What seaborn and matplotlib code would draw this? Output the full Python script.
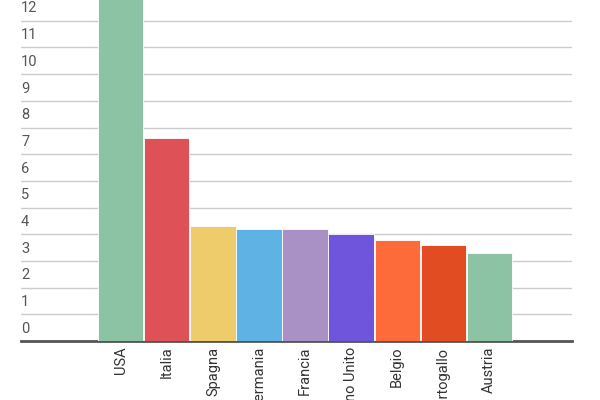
import matplotlib
matplotlib.use("Agg")
import matplotlib.pyplot as plt
import matplotlib.transforms as mtrans
import seaborn as sns
import pandas as pd

countries = ["USA", "Italia", "Spagna", "Germania", "Francia", "Regno Unito", "Belgio", "Portogallo", "Austria"]
values = [14.0, 7.6, 4.3, 4.2, 4.2, 4.0, 3.8, 3.6, 3.3]
colors = ["#8cc3a5", "#de5257", "#eecb6b", "#5fb3e4", "#a991c6", "#6e55dc", "#fc6b39", "#e24c22", "#8cc3a5"]
yticks = list(range(0, 13))

sns.set_style("white")
plt.rcParams['font.family'] = ['Roboto', 'DejaVu Sans']

fig = plt.figure(figsize=(6, 4), dpi=100)
ax = fig.add_axes([21/600, 1-341/400, (572-21)/600, 341/400])
df = pd.DataFrame({"c": countries, "v": values})
sns.barplot(data=df, x="c", y="v", hue="c", palette=colors, legend=False,
            width=0.98, saturation=1, ax=ax, edgecolor="white", linewidth=0.6, zorder=3)
ax.set_ylim(0, 12.78)
ax.set_xlim(-0.5-1.67, 8.5+1.3)
ax.set_yticks(yticks)
ax.yaxis.grid(True, color="#cccccc", linewidth=1, zorder=0)
ax.tick_params(axis="y", length=0, labelleft=False)
ax.tick_params(axis="x", length=0, labelsize=10.5, labelcolor="#333333", pad=4)
ax.set_xticks(range(len(countries)))
ax.set_xticklabels(countries, rotation=90, va="top", ha="center")
tr = mtrans.blended_transform_factory(ax.transAxes, ax.transData)
for t in yticks:
    ax.text(0.0, t + 0.2, str(t), transform=tr, ha="left", va="bottom",
            fontsize=10.5, color="#555555")
for s in ["top", "right", "left"]:
    ax.spines[s].set_visible(False)
ax.spines["bottom"].set_color("#555555")
ax.spines["bottom"].set_linewidth(2)
ax.set_xlabel("")
ax.set_ylabel("")
fig.savefig("out.png", dpi=100)
